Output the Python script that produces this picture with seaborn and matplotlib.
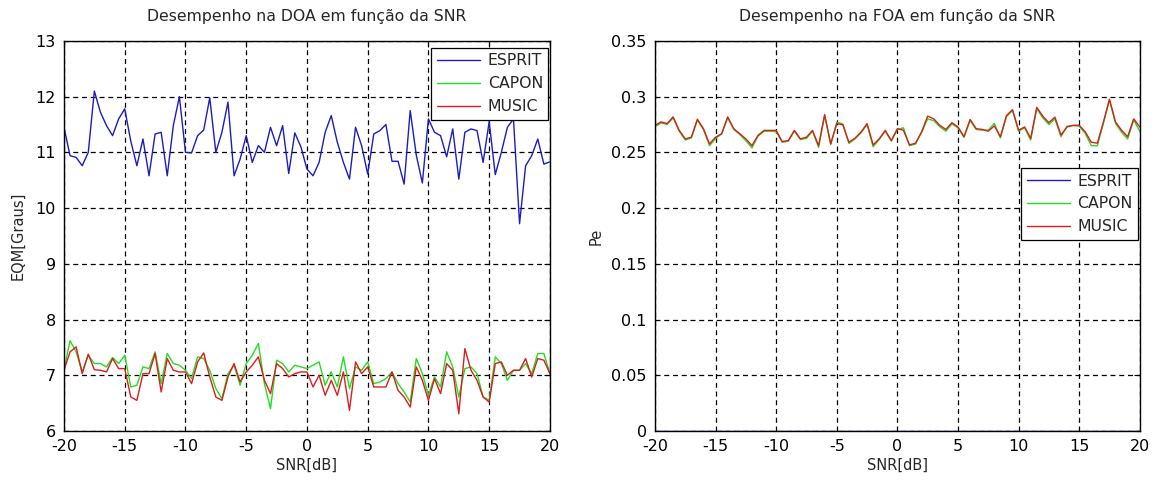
import numpy as np
import pandas as pd
import matplotlib
matplotlib.use("Agg")
import matplotlib.pyplot as plt
import seaborn as sns

# SNR sweep in dB
snr = np.arange(-20, 20.01, 0.5)

# Mean squared error of the direction-of-arrival estimate (degrees)
doa_esprit = [11.45, 10.94, 10.91, 10.76, 11.00, 12.10, 11.72, 11.48, 11.30, 11.60,
              11.78, 11.20, 10.76, 11.24, 10.58, 11.33, 11.36, 10.58, 11.48, 12.00,
              11.00, 10.99, 11.30, 11.40, 11.98, 11.00, 11.36, 11.90, 10.58, 10.88,
              11.30, 10.82, 11.12, 11.00, 11.45, 11.12, 11.48, 10.62, 11.35, 11.10,
              10.70, 10.58, 10.82, 11.36, 11.66, 11.18, 10.82, 10.52, 11.45, 11.12,
              10.61, 11.33, 11.39, 11.50, 10.84, 10.84, 10.43, 11.75, 10.95, 10.45,
              11.60, 11.36, 11.30, 10.92, 11.42, 10.52, 11.36, 11.42, 11.39, 10.82,
              11.55, 10.60, 11.00, 11.45, 11.60, 9.72, 10.76, 10.94, 11.24, 10.79,
              10.83]
doa_capon = [7.10, 7.62, 7.42, 7.06, 7.36, 7.21, 7.21, 7.15, 7.32, 7.21,
             7.36, 6.79, 6.82, 7.15, 7.12, 7.42, 6.85, 7.39, 7.21, 7.18,
             7.09, 6.94, 7.33, 7.30, 7.09, 6.76, 6.58, 7.03, 7.18, 6.82,
             7.21, 7.36, 7.57, 6.85, 6.40, 7.27, 7.21, 7.06, 7.18, 7.15,
             7.12, 7.18, 7.24, 6.82, 7.06, 6.79, 7.33, 6.76, 7.15, 7.09,
             7.24, 6.85, 6.88, 6.94, 7.06, 6.85, 6.70, 6.52, 7.30, 7.03,
             6.64, 6.97, 6.79, 7.42, 7.15, 6.61, 7.12, 7.15, 7.03, 6.61,
             6.55, 7.33, 7.21, 6.91, 7.09, 7.09, 7.21, 7.03, 7.39, 7.39,
             7.03]
doa_music = [7.09, 7.42, 7.51, 7.03, 7.38, 7.10, 7.09, 7.06, 7.30, 7.12,
             7.12, 6.61, 6.55, 7.03, 7.03, 7.39, 6.70, 7.30, 7.09, 7.06,
             7.06, 6.85, 7.24, 7.40, 6.97, 6.61, 6.55, 6.97, 7.21, 6.88,
             7.06, 7.18, 7.33, 6.91, 6.67, 7.21, 7.12, 6.97, 7.03, 7.06,
             7.06, 6.79, 7.00, 6.64, 6.91, 6.64, 7.06, 6.37, 7.24, 7.03,
             7.15, 6.79, 6.79, 6.79, 7.06, 6.73, 6.61, 6.43, 7.15, 6.91,
             6.55, 6.94, 6.67, 7.21, 7.09, 6.31, 7.48, 7.09, 6.91, 6.61,
             6.52, 7.21, 7.24, 7.00, 7.09, 7.09, 7.30, 6.97, 7.30, 7.27,
             7.03]

# Error probability of the frequency-of-arrival estimate
foa_esprit = [0.0] * 81
foa_capon = [0.2730, 0.2765, 0.2750, 0.2810, 0.2690, 0.2610, 0.2630, 0.2790, 0.2705, 0.2560,
             0.2625, 0.2665, 0.2810, 0.2705, 0.2660, 0.2605, 0.2540, 0.2645, 0.2690, 0.2690,
             0.2685, 0.2590, 0.2600, 0.2690, 0.2615, 0.2625, 0.2690, 0.2545, 0.2830, 0.2570,
             0.2770, 0.2755, 0.2580, 0.2620, 0.2675, 0.2750, 0.2550, 0.2615, 0.2690, 0.2600,
             0.2705, 0.2720, 0.2560, 0.2575, 0.2680, 0.2800, 0.2785, 0.2730, 0.2690, 0.2755,
             0.2720, 0.2635, 0.2785, 0.2705, 0.2700, 0.2700, 0.2760, 0.2630, 0.2820, 0.2875,
             0.2690, 0.2720, 0.2610, 0.2890, 0.2810, 0.2750, 0.2800, 0.2640, 0.2735, 0.2740,
             0.2735, 0.2670, 0.2560, 0.2560, 0.2760, 0.2970, 0.2760, 0.2680, 0.2620, 0.2790,
             0.2690]
foa_music = [0.2742, 0.2773, 0.2758, 0.2818, 0.2697, 0.2621, 0.2636, 0.2797, 0.2712, 0.2576,
             0.2636, 0.2667, 0.2818, 0.2712, 0.2667, 0.2621, 0.2560, 0.2652, 0.2697, 0.2697,
             0.2697, 0.2597, 0.2606, 0.2697, 0.2621, 0.2636, 0.2697, 0.2560, 0.2839, 0.2576,
             0.2758, 0.2748, 0.2591, 0.2627, 0.2682, 0.2758, 0.2567, 0.2621, 0.2697, 0.2606,
             0.2712, 0.2699, 0.2567, 0.2582, 0.2684, 0.2825, 0.2801, 0.2743, 0.2705, 0.2766,
             0.2728, 0.2640, 0.2795, 0.2713, 0.2705, 0.2690, 0.2737, 0.2640, 0.2830, 0.2883,
             0.2699, 0.2728, 0.2626, 0.2904, 0.2825, 0.2766, 0.2816, 0.2655, 0.2728, 0.2743,
             0.2743, 0.2684, 0.2591, 0.2582, 0.2772, 0.2977, 0.2772, 0.2699, 0.2640, 0.2801,
             0.2728]

methods = ["ESPRIT", "CAPON", "MUSIC"]
colors = ["#1c1cc0", "#22dd22", "#dd1c1c"]
x_ticks = [-20, -15, -10, -5, 0, 5, 10, 15, 20]
doa_ticks = [6, 7, 8, 9, 10, 11, 12, 13]
foa_ticks = [0, 0.05, 0.1, 0.15, 0.2, 0.25, 0.3, 0.35]
foa_ticklabels = ["0", "0.05", "0.1", "0.15", "0.2", "0.25", "0.3", "0.35"]

sns.set_style("white")
plt.rcParams["font.family"] = ["DejaVu Sans"]
plt.rcParams["font.size"] = 11

TICK_FS = 11.5
LABEL_FS = 10.5
TITLE_FS = 11.3
LEGEND_FS = 11.3

fig = plt.figure(figsize=(11.57, 4.84), dpi=100)
ax1 = fig.add_axes([0.0553, 0.1095, 0.420, 0.806])
ax2 = fig.add_axes([0.5661, 0.1095, 0.419, 0.806])


def long_frame(series):
    frames = []
    for name, vals in zip(methods, series):
        frames.append(pd.DataFrame({"SNR": snr, "val": vals, "method": name}))
    return pd.concat(frames, ignore_index=True)


def style_axes(ax):
    ax.grid(True, color="black", linestyle=(0, (4, 3)), linewidth=0.9)
    ax.set_axisbelow(True)
    for sp in ax.spines.values():
        sp.set_color("black")
        sp.set_linewidth(1.0)
    ax.tick_params(direction="in", length=4, width=0.8, top=True, right=True,
                   labelsize=TICK_FS, colors="black")
    ax.tick_params(axis="x", pad=5.5)
    ax.tick_params(axis="y", pad=6)
    ax.set_xlim(-20, 20)
    ax.set_xticks(x_ticks)
    ax.set_xticklabels([str(t) for t in x_ticks])


def add_legend(ax, top):
    leg = ax.legend(loc="upper right", bbox_to_anchor=(0.997, top), fontsize=LEGEND_FS,
                    frameon=True, fancybox=False, edgecolor="black", framealpha=1,
                    handlelength=2.75, borderpad=0.35, labelspacing=0.5,
                    handletextpad=0.5, borderaxespad=0)
    leg.get_frame().set_linewidth(0.9)
    return leg


df1 = long_frame([doa_esprit, doa_capon, doa_music])
sns.lineplot(data=df1, x="SNR", y="val", hue="method", palette=colors,
             hue_order=methods, linewidth=1.0, ax=ax1)
style_axes(ax1)
ax1.set_ylim(6, 13)
ax1.set_yticks(doa_ticks)
ax1.set_yticklabels([str(t) for t in doa_ticks])
ax1.set_xlabel("SNR[dB]", fontsize=LABEL_FS, labelpad=3)
ax1.set_ylabel("EQM[Graus]", fontsize=LABEL_FS, labelpad=7)
ax1.set_title("Desempenho na DOA em função da SNR", fontsize=TITLE_FS, pad=14)
add_legend(ax1, 0.982)

df2 = long_frame([foa_esprit, foa_capon, foa_music])
sns.lineplot(data=df2, x="SNR", y="val", hue="method", palette=colors,
             hue_order=methods, linewidth=1.0, ax=ax2)
style_axes(ax2)
ax2.set_ylim(0, 0.35)
ax2.set_yticks(foa_ticks)
ax2.set_yticklabels(foa_ticklabels)
ax2.set_xlabel("SNR[dB]", fontsize=LABEL_FS, labelpad=3)
ax2.set_ylabel("Pe", fontsize=LABEL_FS, labelpad=5)
ax2.set_title("Desempenho na FOA em função da SNR", fontsize=TITLE_FS, pad=14)
add_legend(ax2, 0.674)

fig.savefig("out.png", dpi=100, facecolor="white")
